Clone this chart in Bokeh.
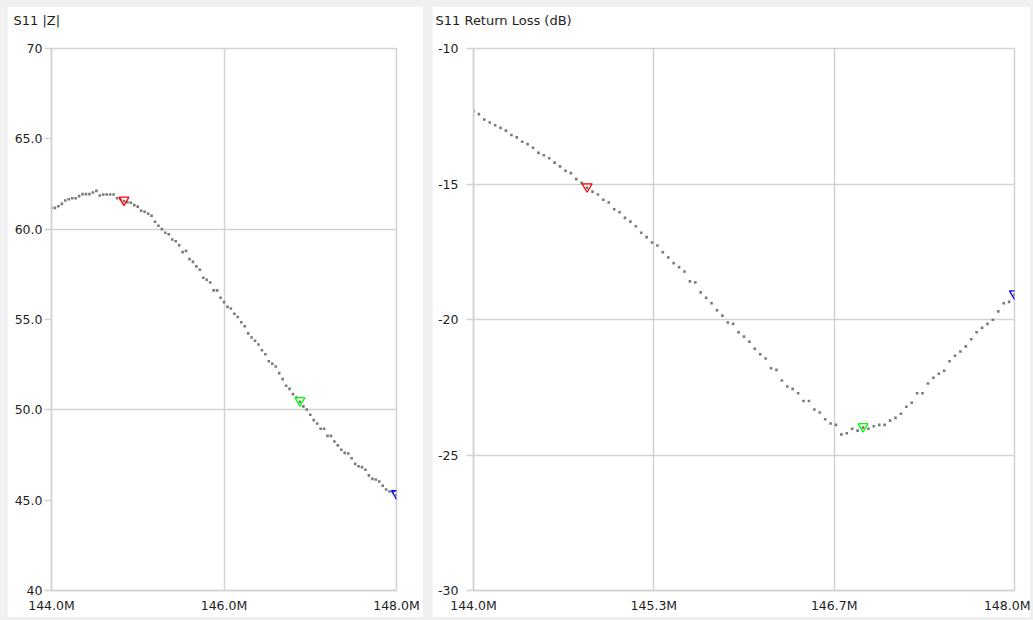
from bokeh.plotting import figure
from bokeh.layouts import row
from bokeh.models import (Range1d, FixedTicker, CustomJSTickFormatter, ColumnDataSource,
                          PolyAnnotation, Label)
from bokeh.embed import file_html
from bokeh.resources import INLINE

# Sweep frequencies (MHz)
freq_mhz = [
    144.00, 144.04, 144.08, 144.12, 144.16, 144.20, 144.24, 144.28, 144.32, 144.36,
    144.40, 144.44, 144.48, 144.52, 144.56, 144.60, 144.64, 144.68, 144.72, 144.76,
    144.80, 144.84, 144.88, 144.92, 144.96, 145.00, 145.04, 145.08, 145.12, 145.16,
    145.20, 145.24, 145.28, 145.32, 145.36, 145.40, 145.44, 145.48, 145.52, 145.56,
    145.60, 145.64, 145.68, 145.72, 145.76, 145.80, 145.84, 145.88, 145.92, 145.96,
    146.00, 146.04, 146.08, 146.12, 146.16, 146.20, 146.24, 146.28, 146.32, 146.36,
    146.40, 146.44, 146.48, 146.52, 146.56, 146.60, 146.64, 146.68, 146.72, 146.76,
    146.80, 146.84, 146.88, 146.92, 146.96, 147.00, 147.04, 147.08, 147.12, 147.16,
    147.20, 147.24, 147.28, 147.32, 147.36, 147.40, 147.44, 147.48, 147.52, 147.56,
    147.60, 147.64, 147.68, 147.72, 147.76, 147.80, 147.84, 147.88, 147.92, 147.96,
    148.00,
]

# S11 |Z| (ohm)
z_mag = [
    61.18, 61.18, 61.27, 61.40, 61.59, 61.66, 61.71, 61.71, 61.83, 61.94,
    61.94, 61.94, 62.03, 62.12, 61.86, 61.92, 61.92, 61.92, 61.92, 61.71,
    61.66, 61.55, 61.49, 61.46, 61.33, 61.25, 61.02, 60.96, 60.85, 60.74,
    60.41, 60.19, 60.00, 59.80, 59.72, 59.43, 59.33, 59.11, 58.73, 58.80,
    58.34, 58.19, 57.94, 57.75, 57.31, 57.20, 57.05, 56.61, 56.61, 56.20,
    55.96, 55.70, 55.61, 55.32, 55.14, 54.85, 54.63, 54.23, 54.00, 53.82,
    53.62, 53.30, 53.08, 52.69, 52.55, 52.40, 52.03, 51.70, 51.33, 51.16,
    50.87, 50.68, 50.45, 50.19, 50.02, 49.73, 49.43, 49.24, 48.95, 48.95,
    48.56, 48.56, 48.25, 48.03, 47.79, 47.62, 47.58, 47.32, 47.01, 46.88,
    46.83, 46.68, 46.37, 46.18, 46.14, 46.03, 45.80, 45.59, 45.48, 45.44,
    45.30,
]

# S11 Return Loss (dB)
return_loss = [
    -12.31, -12.42, -12.62, -12.73, -12.83, -12.93, -13.03, -13.19, -13.28, -13.44,
    -13.53, -13.66, -13.85, -13.94, -14.05, -14.21, -14.35, -14.51, -14.60, -14.82,
    -14.96, -15.14, -15.28, -15.39, -15.58, -15.68, -15.93, -16.04, -16.25, -16.39,
    -16.56, -16.80, -16.96, -17.16, -17.27, -17.52, -17.71, -17.92, -18.07, -18.23,
    -18.59, -18.63, -19.00, -19.20, -19.40, -19.66, -19.86, -20.11, -20.16, -20.47,
    -20.63, -20.82, -21.08, -21.28, -21.44, -21.80, -21.86, -22.25, -22.47, -22.56,
    -22.72, -23.01, -23.01, -23.32, -23.43, -23.68, -23.84, -23.89, -24.24, -24.20,
    -24.03, -24.10, -23.99, -24.03, -23.94, -23.89, -23.89, -23.73, -23.63, -23.48,
    -23.22, -23.07, -22.72, -22.72, -22.36, -22.15, -22.00, -21.89, -21.54, -21.34,
    -21.18, -20.99, -20.73, -20.47, -20.31, -20.16, -20.01, -19.70, -19.40, -19.35,
    -19.09,
]

# Markers (index into the sweep) and their colours
marker_index = [21, 72, 100]
marker_colors = ["#ff0000", "#00ff00", "#0000ff"]

z_x_ticks = [144.0, 146.0, 148.0]
z_y_ticks = [40, 45, 50, 55, 60, 65, 70]
rl_x_ticks = [144.0, 144.0 + 4.0 / 3.0, 144.0 + 8.0 / 3.0, 148.0]
rl_y_ticks = [-30, -25, -20, -15, -10]

GRID = "#d2d2d2"
TXT = "#1e1e1e"
FONT = "DejaVu Sans"
FRAME_H = 542

x_fmt = CustomJSTickFormatter(code="return tick.toFixed(1) + 'M';")
z_fmt = CustomJSTickFormatter(code="return (tick == 70 || tick == 40) ? tick.toFixed(0) : tick.toFixed(1);")
rl_fmt = CustomJSTickFormatter(code="return tick.toFixed(0);")


def make_panel(title, width, xr, yr, xticks, yticks, xgrid, ygrid, yfmt, yvals,
               b_left, b_right, y_standoff):
    p = figure(width=width, height=611, x_range=Range1d(*xr), y_range=Range1d(*yr),
               output_backend="svg", toolbar_location=None,
               min_border_left=b_left, min_border_right=b_right,
               min_border_top=42, min_border_bottom=27)
    p.title.visible = False
    p.background_fill_color = "white"
    p.border_fill_color = "white"
    p.outline_line_color = GRID
    p.outline_line_width = 1.5

    p.add_layout(Label(x=-38, y=28, x_units="screen", y_units="screen", text=title,
                       text_align="left", text_baseline="middle",
                       text_font=FONT, text_font_size="13px", text_color=TXT), "above")

    p.xaxis.ticker = FixedTicker(ticks=xticks)
    p.yaxis.ticker = FixedTicker(ticks=yticks)
    p.xaxis.formatter = x_fmt
    p.yaxis.formatter = yfmt
    for ax in (p.xaxis, p.yaxis):
        ax.axis_line_color = GRID
        ax.axis_line_width = 1.5
        ax.major_tick_line_color = GRID
        ax.major_tick_line_width = 1.5
        ax.minor_tick_line_color = None
        ax.major_tick_in = 0
        ax.major_label_text_font = FONT
        ax.major_label_text_font_size = "12.5px"
        ax.major_label_text_color = TXT
    p.xaxis.major_tick_out = 0
    p.xaxis.major_label_standoff = 7
    p.yaxis.major_tick_out = 7
    p.yaxis.major_label_standoff = y_standoff

    p.xgrid.ticker = FixedTicker(ticks=xgrid)
    p.ygrid.ticker = FixedTicker(ticks=ygrid)
    for g in (p.xgrid, p.ygrid):
        g.grid_line_color = GRID
        g.grid_line_width = 1.5

    src = ColumnDataSource(dict(f=freq_mhz, v=yvals))
    p.scatter("f", "v", source=src, marker="square", size=2.6,
              fill_color="#7a7a7a", line_color=None)

    # marker triangles as annotations (placed in a side panel so they are not clipped)
    frame_w = width - b_left - b_right
    ux = (xr[1] - xr[0]) / frame_w
    uy = (yr[1] - yr[0]) / FRAME_H
    for i, c in zip(marker_index, marker_colors):
        fx, fy = freq_mhz[i], yvals[i]
        p.add_layout(PolyAnnotation(
            xs=[fx - 5 * ux, fx + 5 * ux, fx],
            ys=[fy + 4 * uy, fy + 4 * uy, fy - 4.5 * uy],
            fill_color=None, fill_alpha=0, line_color=c, line_alpha=1.0,
            line_width=1.3), "right")
    return p


p1 = make_panel("S11 |Z|", 416, (144, 148), (40, 70), z_x_ticks, z_y_ticks,
                [146.0], [50, 60], z_fmt, z_mag, 44, 27, 2)
p2 = make_panel("S11 Return Loss (dB)", 598, (144, 148), (-30, -10), rl_x_ticks, rl_y_ticks,
                rl_x_ticks[1:3], [-25, -20, -15], rl_fmt, return_loss, 41, 16, 8)

p1.margin = (6, 0, 3, 7)
p2.margin = (6, 3, 3, 0)

layout = row(p1, p2, spacing=9, styles={"background-color": "#f0f0f0"})

open("out.html", "w").write(file_html(layout, INLINE))
